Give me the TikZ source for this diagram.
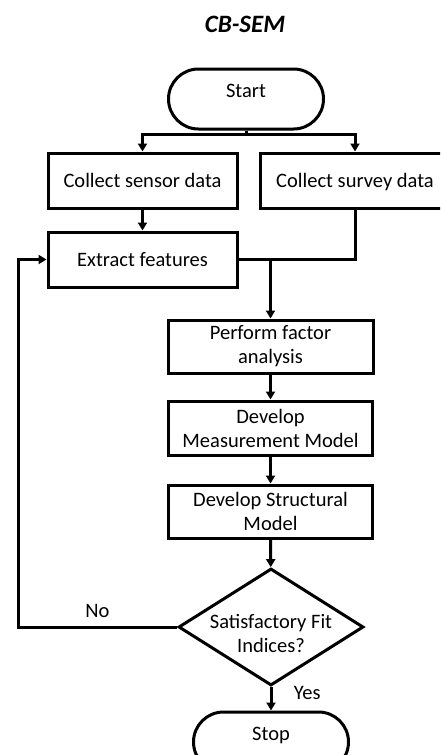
\documentclass[tikz,border=0pt]{standalone}
\usepackage{fontspec}
\setmainfont{Carlito}
\usepackage{tikz}
\usetikzlibrary{positioning,shapes.geometric,shapes.misc,arrows.meta}

\begin{document}
\begin{tikzpicture}[
  x=1pt, y=-1pt,
  every node/.style = {font=\fontsize{20.5}{24}\selectfont, align=center},
  process/.style = {shape=rectangle, draw, line width=3pt, inner sep=0pt},
  oneline/.style = {text height=16pt, text depth=2pt},
  terminal/.style = {shape=rounded rectangle, draw, line width=3pt, inner sep=0pt,
    minimum width=155pt, minimum height=60pt, text height=10pt, text depth=13pt},
  decision/.style = {shape=diamond, draw, line width=3pt, inner sep=0pt,
    minimum width=185pt, minimum height=117pt},
  conn/.style = {line width=3pt},
  flowarrow/.style = {conn, -{Triangle[width=9pt,length=8pt]}}
    ]
  \clip (0,0) rectangle (440,755);
  \node[font=\fontsize{25}{30}\selectfont\bfseries\itshape] (title) at (245,24) {CB-SEM};
  \node[terminal] (start) at (246,99) {Start};
  \node[process, oneline, minimum width=189pt, minimum height=55pt] (sensor) at (142.5,180.5) {Collect sensor data};
  \node[process, oneline, minimum width=190pt, minimum height=55pt] (survey) at (355,180.5) {Collect survey data};
  \node[process, oneline, minimum width=189pt, minimum height=55pt] (extract) at (142.5,259.5) {Extract features};
  \node[process, minimum width=205pt, minimum height=53pt] (factor) at (270.5,346.5) {Perform factor\\analysis};
  \node[process, minimum width=204pt, minimum height=54pt] (measure) at (270.5,428) {Develop\\Measurement Model};
  \node[process, minimum width=204pt, minimum height=53pt] (structural) at (270.5,511.5) {Develop Structural\\Model};
  \node[decision, label={[align=center, yshift=-6pt]center:Satisfactory Fit\\Indices?}] (fit) at (271,627) {};
  \node[terminal] (stop) at (271,742) {Stop};

  \coordinate (split) at (246,134);
  \coordinate (join) at (factor.north |- extract.east);
  \coordinate (back) at (18,627);
  \draw[conn] (start) -- (split);
  \draw[flowarrow] (split) -| (sensor);
  \draw[flowarrow] (split) -| (survey);
  \draw[flowarrow] (sensor) -- (extract);
  \draw[conn] (survey) |- (join);
  \draw[conn] (extract) -- (join);
  \draw[flowarrow] (join) -- (factor);
  \draw[flowarrow] (factor) -- (measure);
  \draw[flowarrow] (measure) -- (structural);
  \draw[flowarrow] (structural) -- (fit);
  \draw[flowarrow] (fit) -- node[pos=0.25, right=18pt] {Yes} (stop);
  \draw[flowarrow] (fit) -- node[pos=0.5, above=5pt] {No} (back) |- (extract);
\end{tikzpicture}
\end{document}
